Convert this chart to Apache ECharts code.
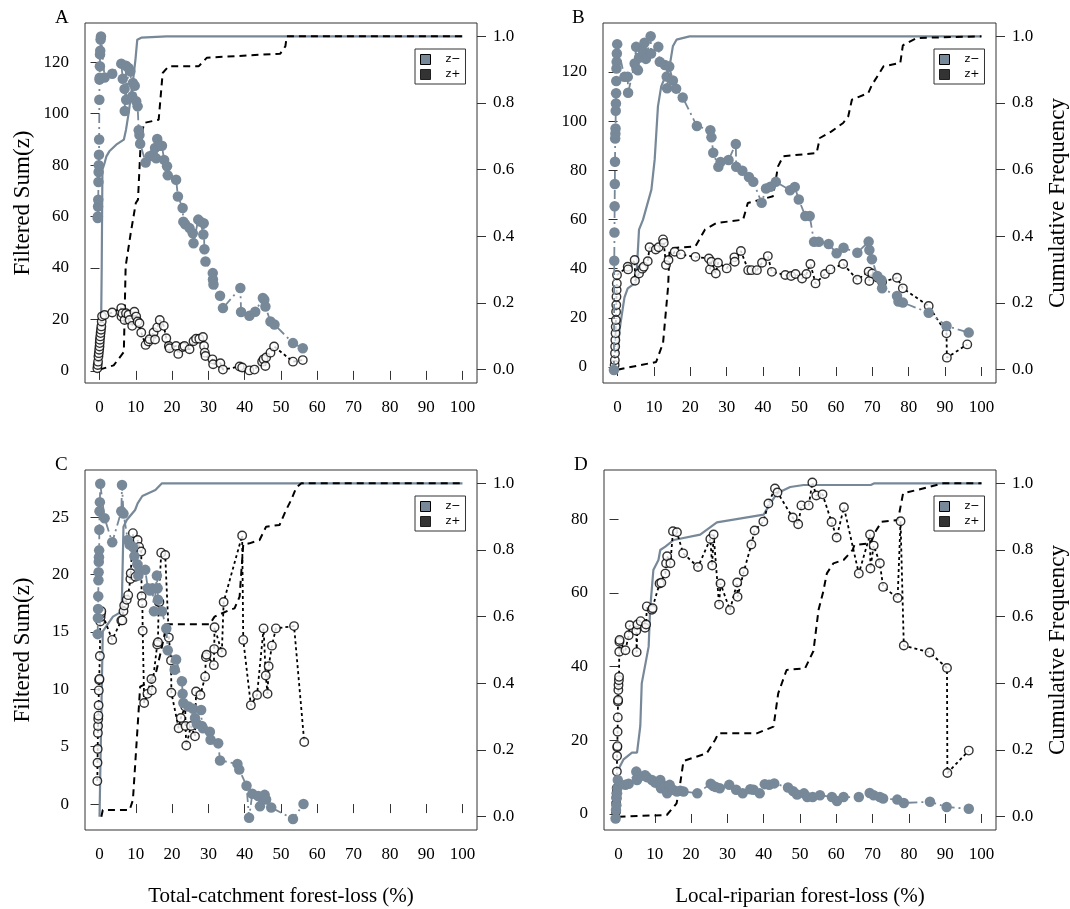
<!DOCTYPE html>
<html><head><meta charset="utf-8">
<script src="https://cdn.jsdelivr.net/npm/echarts@6/dist/echarts.min.js"></script>
<style>html,body{margin:0;padding:0;background:#fff}#c{width:1070px;height:909px}</style>
</head><body><div id="c"></div>
<script>
// ---------------- DATA ----------------
const X_TICKS = [0,10,20,30,40,50,60,70,80,90,100];
const CUM_TICKS = [0,0.2,0.4,0.6,0.8,1.0];
const A_LEFT_TICKS = [0,20,40,60,80,100,120];
const B_LEFT_TICKS = [0,20,40,60,80,100,120];
const C_LEFT_TICKS = [0,5,10,15,20,25];
const D_LEFT_TICKS = [0,20,40,60,80];
const PANEL_LABELS = ['A','B','C','D'];
const X_TITLE_TOTAL = 'Total-catchment forest-loss (%)';
const X_TITLE_LOCAL = 'Local-riparian forest-loss (%)';
const Y_TITLE_LEFT = 'Filtered Sum(z)';
const Y_TITLE_RIGHT = 'Cumulative Frequency';
const LEGEND_NAMES = ['z\u2212','z+'];

// Panel A: total-catchment, z- (filled) and z+ (open)
const A_NEG = [[-0.5,59.4],[-0.45,60],[-0.4,63.9],[-0.35,66.5],[-0.3,73.4],[-0.25,77.3],[-0.2,79.9],[-0.15,84],[-0.1,89.9],[-0.05,105.4],[0,113.2],[0.05,113.9],[0.1,118.4],[0.15,123],[0.2,124.4],[0.3,128.8],[0.4,130],[1.4,114],[3.5,115.5],[6.0,119.4],[6.4,113.5],[6.9,109.6],[6.95,101],[7.3,118.6],[7.35,105.4],[8.0,117.7],[8.5,116.4],[9.0,106.7],[9.2,111.9],[9.7,110.8],[10.1,104.8],[10.5,102.8],[10.8,93.5],[11.0,91.7],[11.2,88.3],[12.7,81],[13.8,83.4],[14.7,84],[15.3,86.6],[15.6,82.6],[15.9,90.1],[16.5,87.5],[17.2,87.5],[17.8,82],[18.6,79.5],[18.8,76],[21.1,74.3],[21.6,67.8],[22.9,63.3],[23.1,58],[23.6,57],[24.8,55.5],[25.7,53.5],[25.9,49.6],[27.2,58.8],[27.8,58],[28.6,53],[28.7,57.4],[28.9,47.3],[29.2,42.5],[31.2,38],[31.25,35.5],[31.4,33.6],[33.2,29.2],[34,24.4],[38.8,32.2],[39,22.9],[41.3,21.4],[42.9,23],[45,28.3],[45.4,27.7],[45.7,25],[47.1,19.2],[48.2,18],[53.3,10.8],[56,8.8]];
const A_POS = [[-0.6,1.0],[-0.5,2.3],[-0.4,3.6],[-0.3,5.6],[-0.2,6.9],[-0.1,8.2],[0,9.5],[0.05,10.8],[0.1,12.1],[0.2,13.4],[0.3,14.7],[0.4,16],[0.5,17.3],[0.6,19.2],[0.7,21.2],[1.4,21.7],[3.5,22.7],[6.0,24.4],[6.05,21.1],[6.3,22.4],[6.9,19.8],[7.3,22.4],[8.0,21.8],[8.3,19.8],[9.0,17.5],[9.6,23.0],[10.1,21.1],[10.5,19.2],[11.0,18.5],[11.5,14.9],[12.7,10.1],[13.5,11.4],[13.8,12.3],[14.9,14.9],[15.3,12.2],[15.9,16.9],[16.6,19.8],[17.7,17.5],[18.4,12.7],[19.1,9.7],[19.3,8.8],[21.1,9.7],[21.7,6.6],[23,9.3],[23.4,9.7],[24.8,8.4],[25.9,11.5],[26.6,12.5],[27.5,12.5],[28.5,13.2],[28.8,9.7],[29,7.1],[29.2,5.8],[31.1,4.5],[31.3,2.6],[33.3,3],[34,0.5],[38.6,1.7],[39.3,1.3],[41.3,0.2],[42.7,0.5],[44.8,3.6],[45.2,4.5],[45.7,1.9],[45.9,5.2],[47.1,7.1],[48.1,9.5],[53.3,3.6],[56,4.2]];
const A_CUM_NEG = [[0.3,0],[0.6,0.3],[0.8,0.6],[1.4,0.62],[1.9,0.64],[2.7,0.655],[4.6,0.675],[6.7,0.69],[7.3,0.72],[8.1,0.775],[8.5,0.81],[9.2,0.865],[9.9,0.93],[10.4,0.99],[11.5,0.996],[18.5,1.0],[100,1.0]];
const A_CUM_POS = [[0,0],[3.9,0.013],[6.7,0.053],[7.2,0.31],[8.6,0.41],[10,0.5],[10.6,0.51],[11.3,0.67],[12.2,0.74],[16.3,0.75],[17.4,0.89],[19,0.91],[27.3,0.91],[29.6,0.936],[49.8,0.948],[51.2,0.97],[51.6,1.0],[100,1.0]];

// Panel B: local-riparian
const B_NEG = [[-1,-1.2],[-0.9,43.2],[-0.85,54.7],[-0.8,65.4],[-0.75,74.4],[-0.7,83.5],[-0.65,92.9],[-0.6,94.9],[-0.55,97],[-0.5,104.2],[-0.45,107.2],[-0.4,111.3],[-0.35,116.3],[-0.3,121.4],[-0.25,124.1],[-0.2,127.5],[-0.1,131.3],[1.9,118],[2.8,118],[2.9,111.5],[4.7,123.4],[5.1,130.2],[5.2,121.3],[5.6,120.7],[5.9,125.8],[7,128.5],[7.4,131.9],[7.8,125.3],[9.1,134.5],[9.2,127.5],[11.2,130.2],[11.6,124.1],[13,122.8],[13.5,118.1],[13.6,113.4],[14.2,122.2],[15.2,116.5],[16.1,113.2],[17.9,109.6],[21.8,98],[25.5,96.3],[25.8,93.4],[26.3,87.1],[27.7,81.4],[28.3,83.4],[30.5,84.2],[32.5,90.7],[32.6,81.4],[34.3,79.8],[36.1,77.3],[37.3,75.3],[39.6,66.8],[40.8,72.6],[42,73.3],[43.5,75.3],[47.4,71.9],[48.7,73.2],[49.8,68.1],[51.6,61.4],[52.8,61.4],[54,50.9],[55.3,50.9],[58,50],[60.2,46.3],[62.1,48.5],[65.9,46.5],[69,51],[69.2,47.6],[69.9,43.8],[71.4,37],[72.5,35.4],[72.7,32],[76.8,28.9],[77.2,26.6],[78.4,26.2],[85.5,22.1],[90.4,16.7],[96.5,14]];
const B_POS = [[-0.8,0.8],[-0.75,2.8],[-0.7,5.6],[-0.65,8.3],[-0.6,11],[-0.55,13.7],[-0.5,16.4],[-0.45,19.1],[-0.4,22.5],[-0.35,25.2],[-0.3,28.6],[-0.25,31.3],[-0.2,34],[-0.15,37.4],[2.8,40.8],[2.9,39.7],[4.7,43.5],[4.8,35.1],[5.9,38],[6.8,40],[7.2,40.8],[8.3,43],[8.8,48.7],[10.5,47.8],[11.3,48.7],[12.5,51.9],[12.7,50.5],[13.3,41.5],[14,43.5],[15.7,46.9],[17.4,45.8],[21.4,44.8],[25.1,44.1],[25.4,39.7],[25.8,42.8],[27,38],[27.6,42.4],[30,40.1],[32.1,44.6],[32.2,42.8],[33.9,47.2],[35.9,39.4],[36.8,39.4],[38.3,39.4],[39.7,42.4],[41.3,45.1],[42.4,38.7],[46.1,37.4],[47.7,37],[48.9,37.8],[50.7,36],[51.9,37.8],[53,41.9],[54.4,34],[57,37.8],[58.5,39.7],[62,41.9],[65.9,35.5],[69,38.8],[69.2,35],[70,38],[71.5,36.3],[72.7,34.6],[76.8,36.3],[78.4,32],[85.5,24.8],[90.4,13.7],[90.5,3.8],[96.1,9.2]];
const B_CUM_NEG = [[0,0.05],[0.55,0.12],[1.9,0.217],[2.8,0.244],[5.1,0.262],[5.9,0.42],[7,0.45],[9.3,0.54],[10.2,0.63],[11.1,0.79],[12,0.85],[14.3,0.91],[15.2,0.97],[16.2,0.99],[19.8,1.0],[100,1.0]];
const B_CUM_POS = [[0,0],[10.6,0.023],[12.5,0.08],[13.9,0.25],[14.3,0.36],[15.6,0.365],[21.4,0.37],[24,0.42],[27.2,0.44],[34.5,0.45],[35.8,0.5],[42.7,0.52],[44.1,0.61],[45.5,0.64],[54.7,0.65],[55.6,0.695],[58.7,0.714],[62,0.74],[63.4,0.76],[64.4,0.81],[68.9,0.83],[69.9,0.854],[73.1,0.91],[77.7,0.92],[78.4,0.973],[82.2,0.995],[100,1.0]];

// Panel C: total-catchment
const C_NEG = [[-0.5,14.8],[-0.45,16.2],[-0.4,17],[-0.35,18.1],[-0.3,19.5],[-0.25,20.2],[-0.2,21.1],[-0.15,21.5],[-0.1,22.1],[-0.05,23.9],[0,25.5],[0.1,26.3],[0.2,27.9],[1.4,24.9],[3.5,22.8],[6,25.5],[6.2,27.8],[6.6,25.3],[7.8,23],[8.3,22.6],[9.2,22.4],[9.6,21.6],[10.4,20.9],[10.7,19.9],[11,20.4],[12.6,20.4],[13.3,18.8],[13.9,18.6],[14.6,18.8],[15,16.8],[15.8,19.9],[16,18.8],[16.1,17.8],[17.2,16.8],[18.4,15.3],[18.8,13.4],[20.7,11.7],[21.1,12.6],[22.7,10.7],[22.9,9.6],[23.1,8.8],[24.5,8.5],[25.8,8.3],[26.3,7.5],[26.8,7],[28,8.2],[28.2,6.8],[28.5,6.6],[30.4,6.3],[30.6,5.6],[32.7,5.3],[33.2,3.8],[38,3.5],[38.5,3],[40.5,1.6],[41.2,-1.2],[42.1,0.9],[43.7,0.7],[44.2,-0.2],[45.1,0.6],[45.5,0.8],[45.9,0.4],[47.3,-0.3],[53.3,-1.3],[56.2,0]];
const C_POS = [[-0.6,2],[-0.55,3.6],[-0.5,4.8],[-0.45,6.2],[-0.4,6.8],[-0.35,7.4],[-0.3,7.7],[-0.25,8.6],[-0.2,9.9],[-0.1,10.8],[0,10.9],[0.1,12.9],[0.2,15.9],[0.3,16.3],[0.4,16.6],[0.5,16.8],[3.5,14.3],[6,16],[6.3,16],[6.6,16.8],[6.8,17.3],[7.5,17.8],[7.9,18.2],[8.5,19.6],[8.6,20.1],[9.2,23.6],[9.9,19.8],[10.5,23],[10.9,22.4],[11.5,22],[11.6,18.1],[11.8,17.5],[11.9,15.1],[12.3,8.8],[13.2,9.6],[14.3,10.9],[14.4,9.9],[15.9,13.9],[16.1,14.1],[16.3,17.6],[16.5,17.6],[17,21.9],[18.1,21.7],[19.1,14.5],[19.7,12.5],[19.8,9.7],[21.8,6.6],[22.4,7.5],[23.6,8.5],[23.7,6.8],[23.9,5.1],[25.2,6.8],[26.3,5.9],[26.6,9.8],[27.8,9.5],[29.1,11.1],[29.3,12.8],[29.5,13],[31.5,12.1],[31.6,13.5],[31.7,15.4],[33.7,13.2],[34.2,17.6],[39.3,23.4],[39.6,14.3],[41.7,8.6],[43.4,9.5],[45.2,15.3],[45.8,11.2],[46.3,9.6],[46.6,12],[47.5,13.8],[48.6,15.3],[53.6,15.5],[56.4,5.4]];
const C_CUM_NEG = [[0,0],[0.9,0.556],[3.7,0.6],[6.1,0.615],[6.6,0.87],[7.5,0.89],[9.8,0.92],[10.5,0.94],[11.8,0.962],[15.4,0.98],[17.2,1.0],[100,1.0]];
const C_CUM_POS = [[0.5,0],[0.9,0.02],[8.3,0.02],[9.2,0.05],[11.2,0.39],[13,0.4],[15.5,0.43],[17,0.5],[18.5,0.577],[30.3,0.577],[31.7,0.6],[35.8,0.62],[37.2,0.625],[38.6,0.66],[39.6,0.817],[41.3,0.82],[44.1,0.83],[45.9,0.87],[49.6,0.875],[51.4,0.92],[52.8,0.95],[54.2,0.987],[55.6,1.0],[100,1.0]];

// Panel D: local-riparian
const D_NEG = [[-0.8,-1.2],[-0.7,1.1],[-0.6,2.4],[-0.5,4.3],[-0.4,5.6],[-0.3,7],[-0.2,9.2],[1.9,7.9],[2.8,8.2],[4.9,11.5],[5.1,9.2],[5.9,10.2],[7.3,10.5],[7.8,10],[9.2,9.2],[10.1,8.5],[11.5,9.2],[11.7,7],[13,7.6],[13.4,5.6],[14.1,7.9],[15,6.6],[16.1,6.1],[17,6.3],[17.9,6.1],[21.7,5.6],[25.4,8.2],[26.1,7.6],[26.8,7.3],[27.9,7],[30.5,7.9],[32.4,6.6],[34.2,5.6],[36.3,6.7],[37.2,6.6],[38.9,5.6],[40.3,8.1],[41.5,7.9],[42.9,8.3],[46.7,7.2],[48.1,6.2],[49.2,5.3],[51.1,5.6],[52,4.6],[53.5,4.6],[55.5,5.1],[58.8,4.6],[60.2,3.5],[62,4.6],[66.2,4.6],[69.2,5.7],[70.3,5.1],[72,4.6],[72.9,4.2],[76.8,3.9],[78.6,3],[85.8,3.3],[90.4,1.9],[96.5,1.4]];
const D_POS = [[-0.7,0.6],[-0.65,2.9],[-0.6,4.5],[-0.55,5.6],[-0.5,7],[-0.45,11.5],[-0.4,15.7],[-0.35,18.1],[-0.3,18.4],[-0.25,22.3],[-0.2,26.2],[-0.15,30.5],[-0.1,30.9],[-0.05,33.6],[0,35],[0.1,36.3],[0.15,37.2],[0.2,44],[0.25,46.7],[0.3,47.2],[1.9,44.4],[2.8,48.5],[3.1,51.2],[4.9,49.7],[5,43.9],[5.2,51.4],[6.1,52.3],[7.3,50.5],[7.6,51.4],[7.8,56.3],[9.2,55.4],[9.4,55.8],[11.3,62.5],[11.8,62.7],[12.9,65.2],[13.1,68],[13.4,69.9],[14.3,68],[15,76.7],[16.1,76.4],[17.8,70.7],[21.9,67],[25.3,74.6],[25.8,67.4],[26.2,75.8],[27.7,56.8],[28.1,62.5],[30.7,55.3],[32.7,62.8],[32.8,58.9],[34.5,65.7],[36.6,73.1],[37.5,76.9],[39.9,79.3],[41.3,84.2],[43.1,88.3],[43.8,87.2],[48,80.4],[49.5,78.6],[50.4,83.7],[52.4,83.7],[53.4,89.9],[54.5,86.4],[56.2,86.7],[58.7,79.2],[60.1,75],[62.1,83.2],[66.2,65.2],[69.3,75.8],[69.4,66.6],[70.3,72.8],[72,68],[72.9,61.6],[76.9,58.6],[77.7,79.4],[78.6,45.7],[85.7,43.8],[90.5,39.6],[90.6,11.1],[96.5,17.2]];
const D_CUM_NEG = [[0,0.142],[1.4,0.172],[3.7,0.192],[5.1,0.192],[6,0.272],[6.4,0.4],[8.3,0.51],[8.7,0.62],[9.6,0.74],[11,0.77],[11.5,0.8],[12.9,0.81],[15.2,0.83],[22.5,0.846],[27.1,0.883],[40,0.906],[41.8,0.94],[43.7,0.97],[47.3,0.989],[51,0.995],[69.5,0.995],[70.5,1.0],[100,1.0]];
const D_CUM_POS = [[0,0],[13.3,0.005],[16,0.04],[17,0.1],[17.9,0.167],[24.3,0.19],[26.6,0.23],[27.5,0.25],[38.1,0.25],[42.7,0.27],[44,0.37],[46.3,0.44],[51.4,0.445],[53.7,0.497],[55.1,0.62],[56.4,0.675],[57.4,0.73],[59.2,0.76],[62,0.77],[64.5,0.8],[65,0.815],[69.5,0.82],[70.5,0.85],[72.5,0.885],[77,0.89],[78.4,0.97],[82.2,0.98],[89.5,1.0],[100,1.0]];

// ---------------- LAYOUT / STYLE ----------------
const GREY = '#778899';
const SERIF = '"Liberation Serif","Times New Roman",serif';
const SANS = '"DejaVu Sans","Liberation Sans",sans-serif';
const panels = [
  {neg:A_NEG,pos:A_POS,cn:A_CUM_NEG,cp:A_CUM_POS,ticks:A_LEFT_TICKS,ymin:-4.7,ymax:135.2,
   grid:{left:85,top:23,width:392,height:360}, leftTitle:true, rightTitle:false, xTitle:null},
  {neg:B_NEG,pos:B_POS,cn:B_CUM_NEG,cp:B_CUM_POS,ticks:B_LEFT_TICKS,ymin:-6.5,ymax:139.9,
   grid:{left:603,top:23,width:393,height:360}, leftTitle:false, rightTitle:true, xTitle:null},
  {neg:C_NEG,pos:C_POS,cn:C_CUM_NEG,cp:C_CUM_POS,ticks:C_LEFT_TICKS,ymin:-2.26,ymax:29.1,
   grid:{left:85,top:470,width:392,height:360}, leftTitle:true, rightTitle:false, xTitle:X_TITLE_TOTAL},
  {neg:D_NEG,pos:D_POS,cn:D_CUM_NEG,cp:D_CUM_POS,ticks:D_LEFT_TICKS,ymin:-4.34,ymax:93.3,
   grid:{left:604,top:470,width:392,height:360}, leftTitle:false, rightTitle:true, xTitle:X_TITLE_LOCAL}
];
const labelPos = [[55,9],[572,9],[55,456],[574,456]];

const grids=[], xAxes=[], yAxes=[], series=[], legends=[], titles=[];
const tickStyle = {show:true, length:9, inside:false, lineStyle:{color:'#333', width:1}};
const lblStyle = {color:'#000', fontFamily:SERIF, fontSize:17};
const yTitleStyle = {color:'#000', fontFamily:SERIF, fontSize:23};

panels.forEach((p,i)=>{
  grids.push(Object.assign({show:true, borderColor:'#333', borderWidth:1, containLabel:false}, p.grid));
  xAxes.push({type:'value', gridIndex:i, min:-4, max:104, position:'bottom',
    axisLine:{show:false}, splitLine:{show:false},
    axisTick:Object.assign({customValues:X_TICKS}, tickStyle),
    axisLabel:Object.assign({customValues:X_TICKS, margin:16, formatter:v=>String(v)}, lblStyle),
    name:p.xTitle||'', nameLocation:'middle', nameGap:56,
    nameTextStyle:{color:'#000', fontFamily:SERIF, fontSize:21}});
  yAxes.push({type:'value', gridIndex:i, min:p.ymin, max:p.ymax, position:'left',
    axisLine:{show:false}, splitLine:{show:false},
    axisTick:Object.assign({customValues:p.ticks}, tickStyle),
    axisLabel:Object.assign({customValues:p.ticks, margin:16, formatter:v=>String(v)}, lblStyle),
    name:p.leftTitle?Y_TITLE_LEFT:'', nameLocation:'middle', nameGap:51, nameRotate:90,
    nameTextStyle:yTitleStyle});
  yAxes.push({type:'value', gridIndex:i, min:-0.04, max:1.04, position:'right',
    axisLine:{show:false}, splitLine:{show:false},
    axisTick:Object.assign({customValues:CUM_TICKS}, tickStyle),
    axisLabel:Object.assign({customValues:CUM_TICKS, margin:16, formatter:v=>v.toFixed(1)}, lblStyle),
    name:p.rightTitle?Y_TITLE_RIGHT:'', nameLocation:'middle', nameGap:50, nameRotate:90,
    nameTextStyle:yTitleStyle});
  const yl = 2*i, yr = 2*i+1;
  series.push({type:'line', xAxisIndex:i, yAxisIndex:yr, data:p.cn, symbol:'none', silent:true,
    lineStyle:{color:GREY, width:2.2}, z:2});
  series.push({type:'line', xAxisIndex:i, yAxisIndex:yr, data:p.cp, symbol:'none', silent:true,
    lineStyle:{color:'#000', width:2, type:[7,5]}, z:2});
  series.push({type:'line', xAxisIndex:i, yAxisIndex:yl, data:p.pos, symbol:'none', silent:true,
    lineStyle:{color:'#000', width:1.8, type:[3,3]}, z:3});
  series.push({type:'scatter', name:LEGEND_NAMES[1], xAxisIndex:i, yAxisIndex:yl, data:p.pos,
    symbol:'circle', symbolSize:8.5, itemStyle:{color:'#fff', borderColor:'#000', borderWidth:1.4}, z:4});
  series.push({type:'line', xAxisIndex:i, yAxisIndex:yl, data:p.neg, symbol:'none', silent:true,
    lineStyle:{color:GREY, width:1.8, type:[9,4,2,4]}, z:5});
  series.push({type:'scatter', name:LEGEND_NAMES[0], xAxisIndex:i, yAxisIndex:yl, data:p.neg,
    symbol:'circle', symbolSize:10.5, itemStyle:{color:GREY, opacity:1}, z:6});
  const g = p.grid;
  legends.push({show:true, orient:'vertical', left:g.left+g.width-62, top:g.top+26,
    selectedMode:false, itemWidth:10, itemHeight:10, itemGap:4,
    borderColor:'#333', borderWidth:1, padding:[5,5,4,5], backgroundColor:'#fff',
    textStyle:{fontFamily:SANS, fontSize:11, color:'#000', padding:[0,0,0,10]},
    data:[{name:LEGEND_NAMES[0], icon:'rect', itemStyle:{color:GREY, borderColor:'#000', borderWidth:1}},
          {name:LEGEND_NAMES[1], icon:'rect', itemStyle:{color:'#000', borderColor:'#000', borderWidth:1}}]});
  titles.push({text:PANEL_LABELS[i], left:labelPos[i][0], top:labelPos[i][1], padding:0,
    textStyle:{fontFamily:SERIF, fontSize:19, fontWeight:'normal', color:'#000'}});
});

const chart = echarts.init(document.getElementById('c'), null, {renderer:'canvas'});
chart.setOption({animation:false, backgroundColor:'#fff', title:titles, grid:grids,
  xAxis:xAxes, yAxis:yAxes, legend:legends, series:series, tooltip:{show:false}});
</script></body></html>
